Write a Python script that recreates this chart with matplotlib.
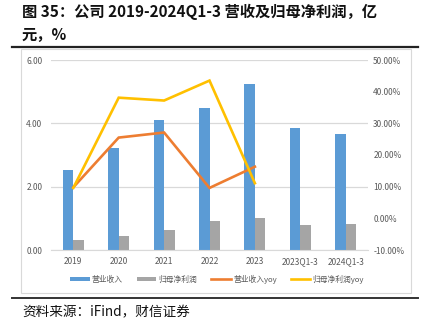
import matplotlib
matplotlib.use("Agg")
import matplotlib.pyplot as plt
from matplotlib.patches import Rectangle
from matplotlib.lines import Line2D
import numpy as np

plt.rcParams['font.family'] = ['Noto Sans CJK SC', 'DejaVu Sans']

categories = ['2019', '2020', '2021', '2022', '2023', '2023Q1-3', '2024Q1-3']
revenue = [2.54, 3.22, 4.10, 4.48, 5.23, 3.85, 3.67]          # 营业收入, 亿元
net_profit = [0.32, 0.43, 0.62, 0.91, 1.01, 0.79, 0.83]       # 归母净利润, 亿元
revenue_yoy = [9.8, 25.5, 27.1, 9.6, 16.3]                    # %, 2019-2023
profit_yoy = [9.6, 38.1, 37.2, 43.5, 11.1]                    # %, 2019-2023

left_ticks = [0, 2, 4, 6]
right_ticks = [-10, 0, 10, 20, 30, 40, 50]

BLUE = '#5B9BD5'
GRAY = '#A5A5A5'
ORANGE = '#ED7D31'
YELLOW = '#FFC000'
TICK = '#595959'

W, H = 426, 328
fig = plt.figure(figsize=(W / 100, H / 100), dpi=100)

# title
fig.text(22 / W, 1 - 12 / H, '图 35：公司 2019-2024Q1-3 营收及归母净利润，亿',
         fontsize=11, fontweight='bold', va='center', ha='left', color='#111111')
fig.text(22 / W, 1 - 35 / H, '元，%', fontsize=11, fontweight='bold',
         va='center', ha='left', color='#111111')
fig.add_artist(Line2D([12 / W, 418 / W], [1 - 46.5 / H, 1 - 46.5 / H],
                      color='#222222', lw=1.6, transform=fig.transFigure))

# chart frame
fig.add_artist(Rectangle((21 / W, 1 - 293 / H), 390 / W, 244 / H, fill=False,
                         edgecolor='#D9D9D9', lw=0.8, transform=fig.transFigure))

# bottom rule and source
fig.add_artist(Line2D([12 / W, 418 / W], [1 - 298 / H, 1 - 298 / H],
                      color='#333333', lw=1.4, transform=fig.transFigure))
fig.text(22 / W, 1 - 312 / H, '资料来源：iFind，财信证券', fontsize=9.8,
         style='italic', va='center', ha='left', color='#111111')

ax_left = 50.6 / W
ax_w = 317.8 / W
ax_bot = 1 - 250 / H
ax_h = 190 / H
ax = fig.add_axes([ax_left, ax_bot, ax_w, ax_h])
ax2 = ax.twinx()

x = np.arange(len(categories))
bw = 0.23
ax.bar(x - bw / 2, revenue, width=bw, color=BLUE, label='营业收入', zorder=2)
ax.bar(x + bw / 2, net_profit, width=bw, color=GRAY, label='归母净利润', zorder=2)

xl = np.arange(len(revenue_yoy))
ax2.plot(xl, revenue_yoy, color=ORANGE, lw=1.9, label='营业收入yoy', solid_joinstyle='miter')
ax2.plot(xl, profit_yoy, color=YELLOW, lw=1.9, label='归母净利润yoy', solid_joinstyle='miter')

ax.set_xlim(-0.5, len(categories) - 0.5)
ax.set_ylim(0, 6)
ax2.set_ylim(-10, 50)
ax.set_yticks(left_ticks)
ax.set_yticklabels([f'{v:.2f}' for v in left_ticks])
ax2.set_yticks(right_ticks)
ax2.set_yticklabels([f'{v:.2f}%' for v in right_ticks])
ax.set_xticks(x)
ax.set_xticklabels(categories)

ax.yaxis.grid(True, color='#D9D9D9', lw=0.9, zorder=0)
ax.set_axisbelow(True)
for a in (ax, ax2):
    for s in a.spines.values():
        s.set_visible(False)
ax.spines['bottom'].set_visible(True)
ax.spines['bottom'].set_color('#D9D9D9')
ax.tick_params(axis='both', length=0, labelsize=6, labelcolor=TICK, pad=5)
ax.tick_params(axis='y', pad=6)
ax2.tick_params(axis='y', length=0, labelsize=6, labelcolor=TICK, pad=3.5)

h1, l1 = ax.get_legend_handles_labels()
h2, l2 = ax2.get_legend_handles_labels()
fig.legend(h1 + h2, l1 + l2, loc='center', bbox_to_anchor=(217 / W, 1 - 279 / H),
           ncol=4, frameon=False, fontsize=5.6, labelcolor=TICK,
           handlelength=2.5, handleheight=0.5, columnspacing=1.8, handletextpad=0.3)

fig.savefig('out.png', dpi=100)
